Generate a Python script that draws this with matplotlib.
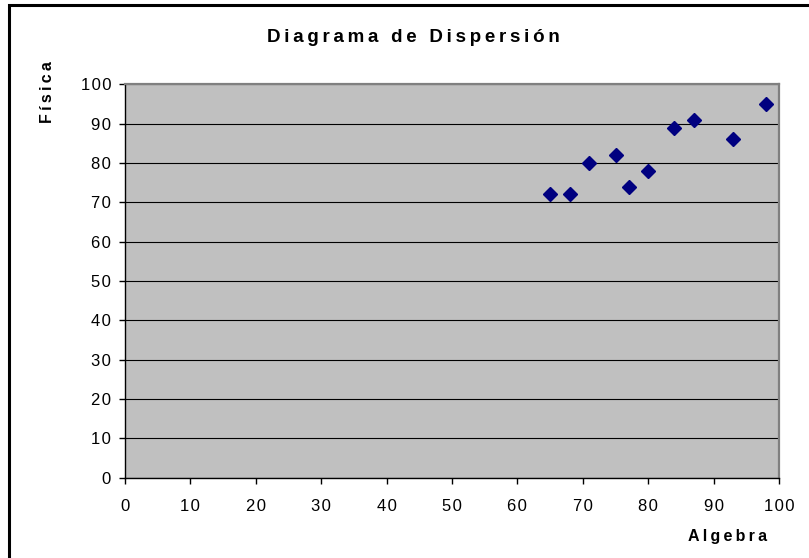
import matplotlib.pyplot as plt
from matplotlib.patches import Rectangle
from matplotlib.ticker import FuncFormatter

plt.rcParams['font.family'] = ['Liberation Sans', 'DejaVu Sans']

# notas de los alumnos
algebra = [65, 68, 71, 75, 77, 80, 84, 87, 93, 98]
fisica = [72, 72, 80, 82, 74, 78, 89, 91, 86, 95]

xticks = list(range(0, 101, 10))
yticks = list(range(0, 101, 10))


def spaced(s, sp='\u2009'):
    # letras separadas como en el grafico original de Excel
    return sp.join(s)


fig = plt.figure(figsize=(8.09, 5.58), dpi=100)
W, H = 809, 558
ax = fig.add_axes([125 / W, 1 - 477.7 / H, (779 - 125) / W, (477.7 - 84.3) / H])

ax.set_facecolor('#c0c0c0')
ax.set_xlim(0, 100)
ax.set_ylim(0, 100)
ax.set_xticks(xticks)
ax.set_yticks(yticks)
fmt = FuncFormatter(lambda v, pos: spaced(str(int(v)), '\u200a'))
ax.xaxis.set_major_formatter(fmt)
ax.yaxis.set_major_formatter(fmt)
ax.tick_params(direction='out', length=4, width=1, labelsize=12, colors='black')
ax.tick_params(axis='x', pad=11)
ax.tick_params(axis='y', pad=6)

ax.grid(axis='y', color='black', linewidth=0.8)
ax.set_axisbelow(True)

for s in ['left', 'bottom']:
    ax.spines[s].set_color('black')
    ax.spines[s].set_linewidth(1)
for s in ['top', 'right']:
    ax.spines[s].set_color('#808080')
    ax.spines[s].set_linewidth(1.6)

ax.plot(algebra, fisica, linestyle='none', marker='D', markersize=7,
        color='#000080', clip_on=False, zorder=3)

fig.text(413 / W, 1 - 38 / H, spaced('Diagrama de Dispersión'), ha='center', va='center',
         fontsize=13.5, fontweight='bold')
fig.text(47 / W, 1 - 92 / H, spaced('Física'), ha='center', va='center', rotation=90,
         fontsize=11.5, fontweight='bold')
fig.text(728 / W, 1 - 537 / H, spaced('Algebra'), ha='center', va='center',
         fontsize=11.5, fontweight='bold')

# marco exterior
fig.patches.append(Rectangle((8.5 / W, -0.1), 1.2, 1 - 5.5 / H + 0.1, transform=fig.transFigure,
                             fill=False, edgecolor='black', linewidth=2.2))

fig.savefig('out.png', dpi=100)
